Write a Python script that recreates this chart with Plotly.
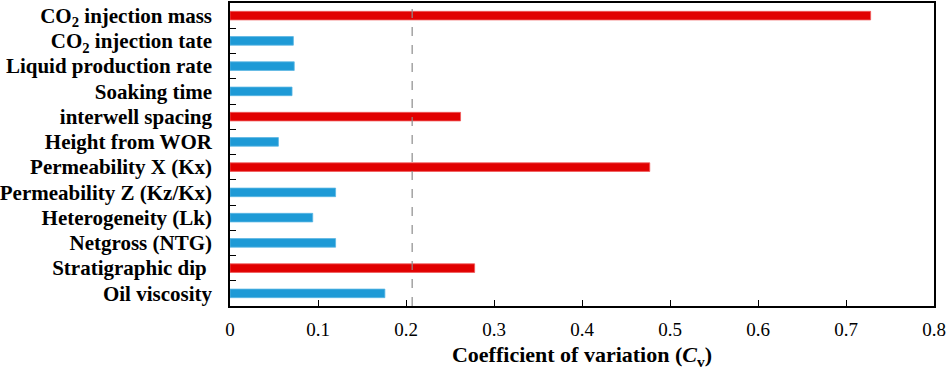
import plotly.graph_objects as go

categories = [
    "CO<sub>2</sub> injection mass",
    "CO<sub>2</sub> injection tate",
    "Liquid production rate",
    "Soaking time",
    "interwell spacing",
    "Height from WOR",
    "Permeability X (Kx)",
    "Permeability Z (Kz/Kx)",
    "Heterogeneity (Lk)",
    "Netgross (NTG)",
    "Stratigraphic dip&nbsp;",
    "Oil viscosity",
]
cv_values = [0.728, 0.072, 0.073, 0.0705, 0.262, 0.055, 0.477, 0.120, 0.094, 0.120, 0.278, 0.176]
is_key = [True, False, False, False, True, False, True, False, False, False, True, False]
threshold = 0.207
x_ticks = [0, 0.1, 0.2, 0.3, 0.4, 0.5, 0.6, 0.7, 0.8]
x_tick_text = ["0", "0.1", "0.2", "0.3", "0.4", "0.5", "0.6", "0.7", "0.8"]

RED = "#E10000"
BLUE = "#1E9AD6"
colors = [RED if k else BLUE for k in is_key]
edge = ["#F05A5A" if k else "#5BB6E3" for k in is_key]

fig = go.Figure()
fig.add_trace(go.Bar(
    x=cv_values, y=categories, orientation="h",
    marker=dict(color=colors, line=dict(color=edge, width=0.8)),
    width=0.34, showlegend=False, hoverinfo="skip",
))
fig.add_shape(type="line", xref="x", yref="paper", x0=threshold, x1=threshold, y0=0, y1=1,
              line=dict(color="#8C8C8C", width=1.2, dash="dash"), layer="above")

font_family = "Liberation Serif, Times New Roman, serif"
fig.update_layout(
    width=948, height=378,
    margin=dict(l=230, r=14, t=3, b=72),
    paper_bgcolor="white", plot_bgcolor="white",
    font=dict(family=font_family, color="black"),
)
fig.update_xaxes(
    range=[0, 0.8], tickvals=x_ticks, ticktext=x_tick_text,
    ticks="inside", ticklen=6, tickwidth=1.2, tickcolor="black",
    showline=True, linecolor="black", linewidth=1.5, mirror=True,
    showgrid=False, zeroline=False, automargin=False,
    tickfont=dict(size=19, family=font_family, color="black"),
    ticklabelstandoff=5,
    title=dict(text="<b>Coefficient of variation (<i>C</i><sub>v</sub>)</b>",
               font=dict(size=22, family=font_family, color="black"), standoff=8),
)
fig.update_yaxes(
    categoryorder="array", categoryarray=categories, autorange="reversed",
    ticks="inside", tickson="boundaries", ticklen=6, tickwidth=1.2, tickcolor="black",
    showline=True, linecolor="black", linewidth=1.5, mirror=True,
    showgrid=False, zeroline=False, automargin=False,
    tickfont=dict(size=21, family=font_family, color="black", weight="bold"),
    ticklabelstandoff=12,
)
fig.write_html(
    "out.html",
    config={"displayModeBar": False},
    post_script="document.body.style.margin='0';document.body.style.overflow='hidden';",
)
